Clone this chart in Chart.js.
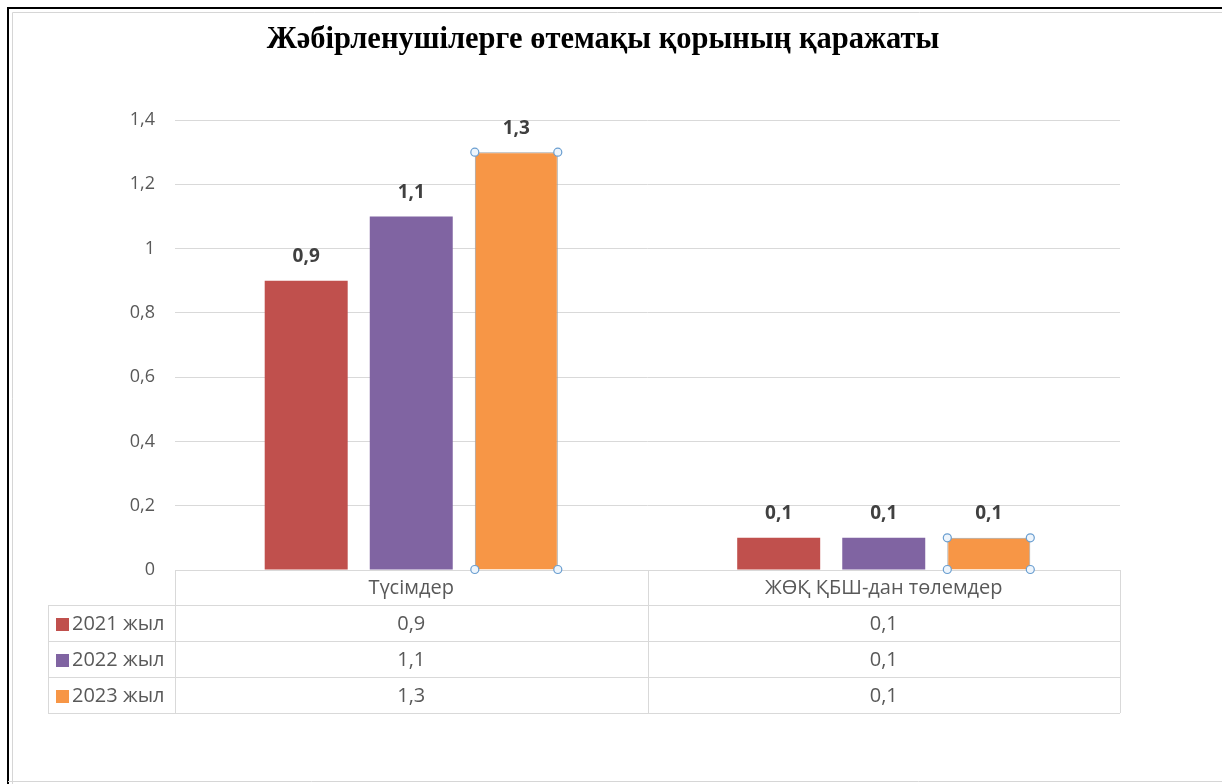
<!DOCTYPE html>
<html>
<head>
<meta charset="utf-8">
<script src="https://cdn.jsdelivr.net/npm/chart.js@4"></script>
<style>
html,body{margin:0;padding:0;background:#fff;}
#wrap{position:relative;width:1222px;height:784px;}
canvas{display:block;}
</style>
</head>
<body>
<div id="wrap"><canvas id="c" width="1222" height="784"></canvas></div>
<script>
const chartTitle = 'Жәбірленушілерге өтемақы қорының қаражаты';
const categories = ['Түсімдер', 'ЖӨҚ ҚБШ-дан төлемдер'];
const seriesNames = ['2021 жыл', '2022 жыл', '2023 жыл'];
const values2021 = [0.9, 0.1];
const values2022 = [1.1, 0.1];
const values2023 = [1.3, 0.1];
const seriesColors = ['#C0504D', '#8064A2', '#F79646'];
const yTicks = [0, 0.2, 0.4, 0.6, 0.8, 1, 1.2, 1.4];

const fmt = v => String(Math.round(v * 10) / 10).replace('.', ',');
const FONT = '"Open Sans", "Noto Sans", sans-serif';
const allSeries = [values2021, values2022, values2023];

const framePlugin = {
  id: 'frame',
  beforeDraw(chart) {
    const ctx = chart.ctx;
    ctx.save();
    ctx.fillStyle = '#fff';
    ctx.fillRect(0, 0, chart.width, chart.height);
    ctx.strokeStyle = '#000';
    ctx.lineWidth = 2;
    ctx.beginPath();
    ctx.moveTo(8, 784); ctx.lineTo(8, 8); ctx.lineTo(1222, 8);
    ctx.stroke();
    ctx.strokeStyle = '#d6d6d6';
    ctx.lineWidth = 1;
    ctx.beginPath();
    ctx.moveTo(12.5, 784); ctx.lineTo(12.5, 12.5); ctx.lineTo(1222, 12.5);
    ctx.moveTo(8, 781.5); ctx.lineTo(1222, 781.5);
    ctx.stroke();
    ctx.fillStyle = '#000';
    ctx.font = 'bold 30.5px "Liberation Serif", "DejaVu Serif", serif';
    ctx.textAlign = 'center';
    ctx.textBaseline = 'middle';
    ctx.fillText(chartTitle, 603, 40);
    ctx.restore();
  }
};

const tablePlugin = {
  id: 'dataTable',
  afterDraw(chart) {
    const ctx = chart.ctx;
    const x = chart.scales.x;
    const area = chart.chartArea;
    const left = area.left, right = area.right, top = area.bottom;
    const rowH = 36;
    const headerH = 35;
    const legendLeft = 48;
    const n = categories.length;
    const catW = (right - left) / n;
    ctx.save();
    ctx.strokeStyle = '#d9d9d9';
    ctx.lineWidth = 1;
    ctx.beginPath();
    for (let i = 0; i <= n; i++) {
      const xx = Math.round(left + catW * i) + 0.5;
      ctx.moveTo(xx, top); ctx.lineTo(xx, top + headerH + rowH * 3);
    }
    for (let r = 0; r <= 3; r++) {
      const yy = Math.round(top + headerH + rowH * r) + 0.5;
      ctx.moveTo(legendLeft, yy); ctx.lineTo(right, yy);
    }
    ctx.moveTo(legendLeft + 0.5, top + headerH); ctx.lineTo(legendLeft + 0.5, top + headerH + rowH * 3);
    ctx.stroke();

    ctx.fillStyle = '#595959';
    ctx.font = '20px ' + FONT;
    ctx.textAlign = 'center';
    ctx.textBaseline = 'middle';
    categories.forEach((c, i) => {
      ctx.fillText(c, x.getPixelForValue(i), top + headerH / 2 + 1);
    });
    seriesNames.forEach((s, r) => {
      const cy = top + headerH + rowH * r + rowH / 2 + 1;
      ctx.fillStyle = seriesColors[r];
      ctx.fillRect(56, cy - 6, 13, 13);
      ctx.fillStyle = '#595959';
      ctx.textAlign = 'left';
      ctx.fillText(s, 72, cy);
      ctx.textAlign = 'center';
      allSeries[r].forEach((v, i) => {
        ctx.fillText(fmt(v), x.getPixelForValue(i), cy);
      });
    });
    ctx.restore();
  }
};

const labelPlugin = {
  id: 'barLabels',
  afterDatasetsDraw(chart) {
    const ctx = chart.ctx;
    ctx.save();
    ctx.fillStyle = '#404040';
    ctx.font = 'bold 19px ' + FONT;
    ctx.textAlign = 'center';
    ctx.textBaseline = 'middle';
    chart.data.datasets.forEach((ds, di) => {
      chart.getDatasetMeta(di).data.forEach((bar, i) => {
        ctx.fillText(fmt(ds.data[i]), bar.x, bar.y - 24);
      });
    });
    const meta = chart.getDatasetMeta(2);
    ctx.strokeStyle = '#6a9ed0';
    ctx.fillStyle = '#eef5fc';
    ctx.lineWidth = 1.2;
    meta.data.forEach(bar => {
      const w = bar.width / 2;
      [[bar.x - w, bar.y], [bar.x + w, bar.y], [bar.x - w, bar.base], [bar.x + w, bar.base]].forEach(([px, py]) => {
        ctx.beginPath(); ctx.arc(px, py, 4, 0, Math.PI * 2); ctx.fill(); ctx.stroke();
      });
    });
    ctx.restore();
  }
};

new Chart(document.getElementById('c'), {
  type: 'bar',
  data: {
    labels: categories,
    datasets: seriesNames.map((name, i) => ({
      label: name,
      data: allSeries[i],
      backgroundColor: seriesColors[i],
      borderColor: i === 2 ? '#a0a0a0' : seriesColors[i],
      borderWidth: i === 2 ? 1 : 0,
      categoryPercentage: 0.667,
      barPercentage: 0.79
    }))
  },
  options: {
    responsive: false,
    animation: false,
    devicePixelRatio: 1,
    layout: { padding: { left: 20, right: 102, top: 120, bottom: 214 } },
    plugins: {
      legend: { display: false },
      title: { display: false },
      tooltip: { enabled: false }
    },
    scales: {
      x: {
        ticks: { display: false },
        grid: { display: false },
        border: { display: true, color: '#d9d9d9' },
        afterFit(s) { s.height = 0; }
      },
      y: {
        min: 0,
        max: 1.4,
        afterBuildTicks(s) { s.ticks = yTicks.map(v => ({ value: v })); },
        ticks: {
          color: '#595959',
          font: { family: FONT, size: 18 },
          padding: 20,
          callback: v => fmt(v)
        },
        grid: { color: '#d9d9d9', drawTicks: false },
        border: { display: false },
        afterFit(s) { s.width = 155; }
      }
    }
  },
  plugins: [framePlugin, tablePlugin, labelPlugin]
});
</script>
</body>
</html>
